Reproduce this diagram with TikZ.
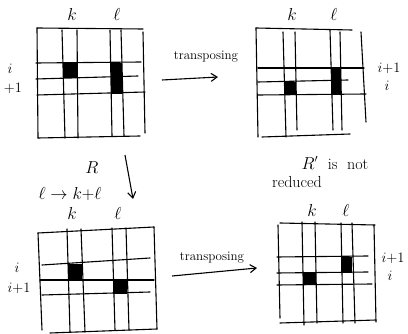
\documentclass[tikz,border=0pt]{standalone}
\usetikzlibrary{arrows.meta}
\begin{document}
\begin{tikzpicture}[x=1pt,y=-1pt,
  pen/.style={line width=1.1pt,line cap=round,black},
  cell/.style={fill=black},
  lab/.style={font=\fontsize{16}{18}\selectfont,inner sep=0pt},
  side/.style={font=\fontsize{14}{16}\selectfont,inner sep=0pt},
  word/.style={font=\fontsize{13}{15}\selectfont,inner sep=0pt},
  conn/.style={line width=1.1pt,-{Straight Barb[length=6pt,width=8pt]}}]
\useasboundingbox (0,0) rectangle (408,334);
% ---------- top-left grid ----------
\fill[cell] (63,63) rectangle (77,78);
\fill[cell] (111,63) rectangle (122,94);
\draw[pen] (37,28) -- (143,29);
\draw[pen] (38,138) -- (140,136);
\draw[pen] (37,28) -- (38,138);
\draw[pen] (143,32) -- (145,133);
\draw[pen] (62,30) -- (65,138);
\draw[pen] (77,30) -- (78,138);
\draw[pen] (110,30) -- (112,136);
\draw[pen] (121,30) -- (124,136);
\draw[pen] (36,63) -- (141,62);
\draw[pen] (36,79) -- (138,76);
\draw[pen] (37,95) -- (145,92);
\node[lab] (tlk) at (72,15) {$k$};
\node[lab] (tll) at (117,15) {$\ell$};
\node[side] (tli) at (10,69) {$i$};
\node[side] (tli1) at (13,88) {$+1$};
% ---------- top arrow ----------
\node[word] (t1) at (206,57) {transposing};
\coordinate (a1s) at (162,80);
\coordinate (a1e) at (218,77);
\draw[conn] (a1s) -- (a1e);
% ---------- top-right grid ----------
\fill[cell] (284,82) rectangle (296,94);
\fill[cell] (331,68) rectangle (341,94);
\draw[pen] (256,28) -- (352,30);
\draw[pen] (262,137) -- (350,134);
\draw[pen] (256,28) -- (258,137);
\draw[pen] (361,32) -- (366,122);
\draw[pen] (283,32) -- (286,137);
\draw[pen] (295,32) -- (297,130);
\draw[pen] (330,30) -- (333,130);
\draw[pen] (340,32) -- (342,130);
\draw[pen] (258,68) -- (364,68);
\draw[pen] (258,82) -- (348,80);
\draw[pen] (258,95) -- (366,94);
\node[lab] (trk) at (292,15) {$k$};
\node[lab] (trl) at (334,15) {$\ell$};
\node[side] (tri1) at (389,68) {$i{+}1$};
\node[side] (tri) at (387,86) {$i$};
% ---------- down arrow ----------
\node[lab] (R) at (92,168) {$R$};
\coordinate (a2s) at (125,155);
\coordinate (a2e) at (133,199);
\draw[conn] (a2s) -- (a2e);
% ---------- bottom-left grid ----------
\node[lab] (map) at (70,194) {$\ell\to k{+}\ell$};
\fill[cell] (68,264) rectangle (82,280);
\fill[cell] (113,280) rectangle (127,294);
\draw[pen] (38,233) -- (154,227);
\draw[pen] (50,333) -- (157,329);
\draw[pen] (38,233) -- (42,330);
\draw[pen] (154,227) -- (157,329);
\draw[pen] (67,229) -- (70,332);
\draw[pen] (81,229) -- (85,332);
\draw[pen] (112,228) -- (115,330);
\draw[pen] (126,228) -- (129,330);
\draw[pen] (42,265) -- (150,258);
\draw[pen] (40,280) -- (154,280);
\draw[pen] (42,295) -- (150,292);
\node[lab] (blk) at (72,214) {$k$};
\node[lab] (bll) at (118,214) {$\ell$};
\node[side] (bli) at (17,268) {$i$};
\node[side] (bli1) at (19,288) {$i{+}1$};
% ---------- bottom arrow ----------
\node[word] (t2) at (212,258) {transposing};
\coordinate (a3s) at (172,276);
\coordinate (a3e) at (257,268);
\draw[conn] (a3s) -- (a3e);
% ---------- bottom-right grid ----------
\node[lab] (not1) at (335,163) {$R'$\ \ is\ \ not};
\node[lab] (not2) at (297,182) {reduced};
\fill[cell] (341,257) rectangle (352,273);
\fill[cell] (303,273) rectangle (316,285);
\draw[pen] (280,223) -- (375,225);
\draw[pen] (280,323) -- (376,320);
\draw[pen] (278,225) -- (280,318);
\draw[pen] (374,225) -- (376,322);
\draw[pen] (302,222) -- (304,325);
\draw[pen] (315,222) -- (317,323);
\draw[pen] (341,223) -- (343,323);
\draw[pen] (352,223) -- (355,323);
\draw[pen] (277,257) -- (368,256);
\draw[pen] (277,273) -- (368,272);
\draw[pen] (277,285) -- (372,284);
\node[lab] (brk) at (312,211) {$k$};
\node[lab] (brl) at (346,211) {$\ell$};
\node[side] (bri1) at (393,258) {$i{+}1$};
\node[side] (bri) at (390,276) {$i$};
\end{tikzpicture}
\end{document}
